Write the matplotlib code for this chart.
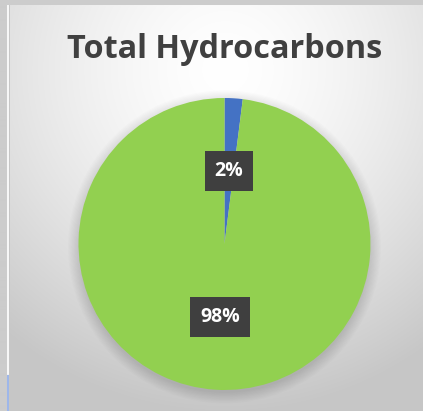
import numpy as np
import matplotlib
matplotlib.use("Agg")
import matplotlib.pyplot as plt
from matplotlib.patches import Circle

# data
categories = ["Other", "Main"]
shares = [2, 98]
colors = ["#4472C4", "#92D050"]
title = "Total Hydrocarbons"

W, H = 423, 411
fig = plt.figure(figsize=(W / 100, H / 100), dpi=100)
fig.patch.set_facecolor("#c8c8c8")

# background: radial gradient of the chart area
bg = fig.add_axes([0, 0, 1, 1])
bg.set_axis_off()
yy, xx = np.mgrid[0:H, 0:W]
d = np.hypot(xx - 225, (yy - 70) * 1.0)
val = 1.0 - 0.22 * np.clip(d / 340, 0, 1) ** 1.5
img = np.dstack([val, val, val])
img[:6, :, :] = 0.80
img[:, :7, :] = 0.80
img[6:, 7:9, :] = 0.97
img[6:, 9, :] = 0.78
img[375:, 7:9, :] = [0.62, 0.72, 0.92]
bg.imshow(img, extent=[0, W, H, 0], aspect="auto", interpolation="bilinear")
bg.set_xlim(0, W)
bg.set_ylim(H, 0)

# pie
cx, cy, r = 224.5, 244, 146
ax = fig.add_axes([(cx - r) / W, (H - cy - r) / H, 2 * r / W, 2 * r / H])
ax.set_axis_off()

# soft shadow around the pie
for k in range(10):
    ax.add_patch(Circle((0, -0.02), 1.0 + 0.008 * k, color="black",
                        alpha=0.010, lw=0, zorder=0))

wedges, texts, autotexts = ax.pie(
    shares, colors=colors, startangle=90, counterclock=False,
    autopct="%d%%", pctdistance=0.5, radius=1.0,
    wedgeprops=dict(linewidth=0),
)
ax.set_xlim(-1, 1)
ax.set_ylim(-1, 1)
ax.set_aspect("equal")
for p in ax.patches:
    p.set_clip_on(False)

for t in autotexts:
    t.set_color("white")
    t.set_fontsize(14)
    t.set_fontweight("bold")
    t.set_fontfamily("Open Sans")
    t.set_bbox(dict(boxstyle="square,pad=0.5", facecolor="#3f3f3f",
                    edgecolor="none"))

fig.text(0.532, 0.880, title, ha="center", va="center", fontsize=23.3,
         fontweight="bold", color="#404040", family="Open Sans")

fig.savefig("out.png", dpi=100)
